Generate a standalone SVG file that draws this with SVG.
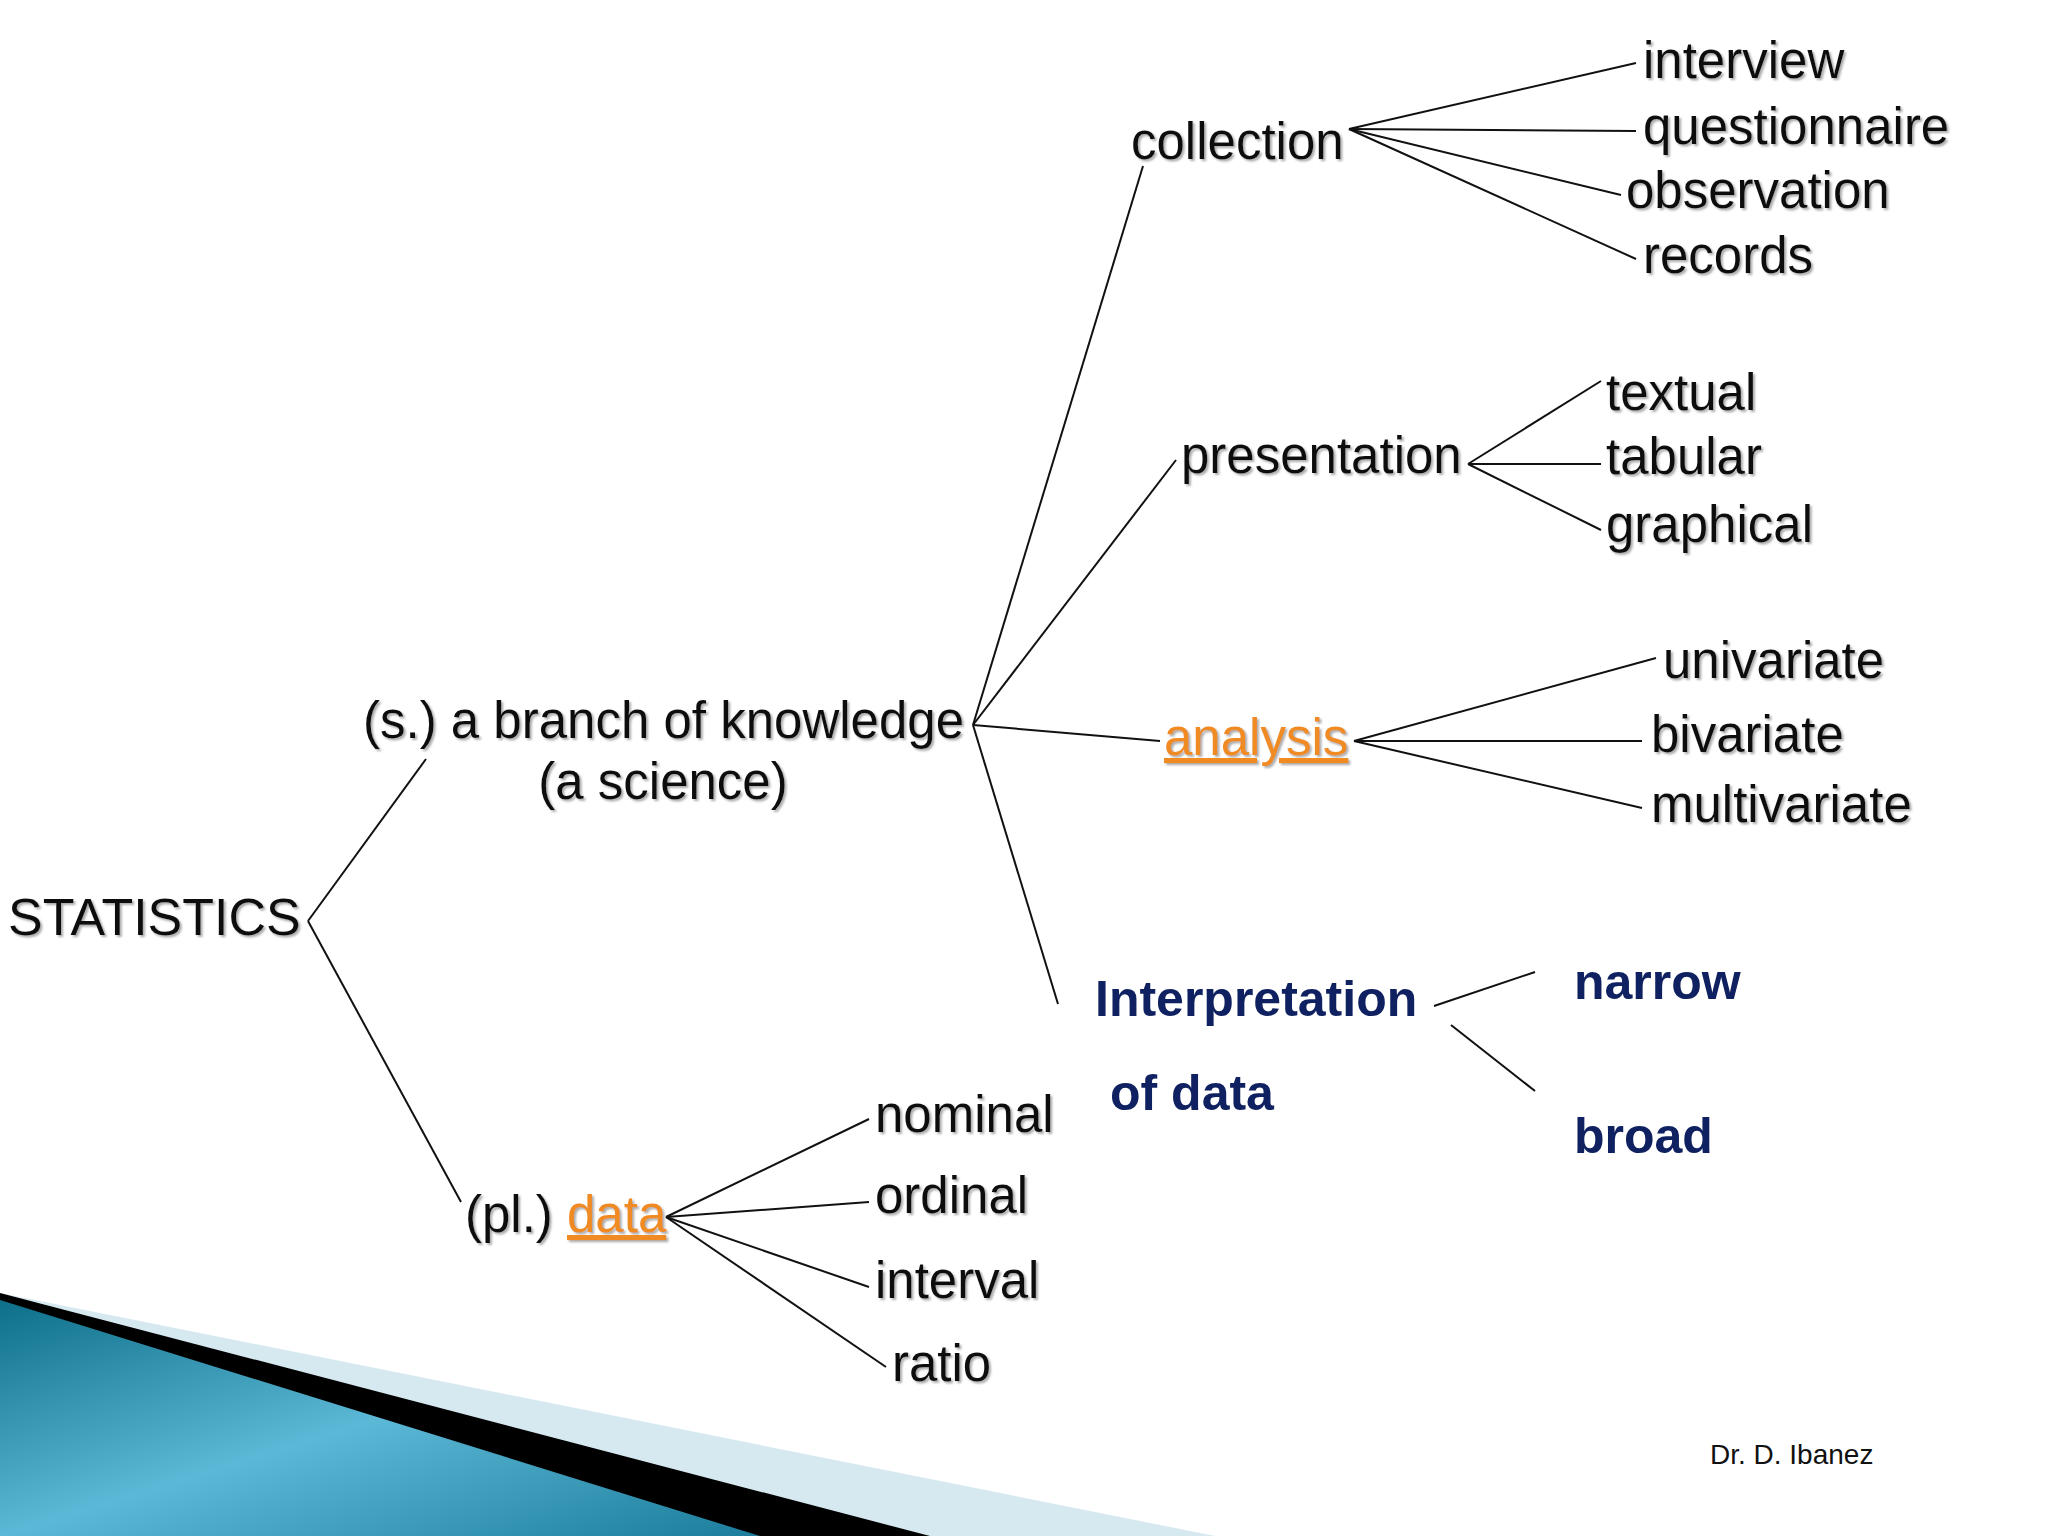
<svg xmlns="http://www.w3.org/2000/svg" width="2048" height="1536" viewBox="0 0 2048 1536">
<style>
.t{font-family:"Liberation Sans",Arial,sans-serif;font-size:51px;fill:#111;filter:url(#sh)}
.o{fill:#F08A24;text-decoration:underline}
.b{font-family:"Liberation Sans",Arial,sans-serif;font-size:50px;font-weight:bold;fill:#0F2160}
.c line{stroke:#111;stroke-width:2}
</style>
<defs>
<filter id="sh" x="-5%" y="-20%" width="110%" height="140%"><feDropShadow dx="2" dy="2" stdDeviation="1" flood-color="#888" flood-opacity="0.7"/></filter>
<linearGradient id="tg" x1="0" y1="0" x2="1" y2="1"><stop offset="0" stop-color="#0E6F8A"/><stop offset="0.5" stop-color="#5BB8D6"/><stop offset="1" stop-color="#1C7E9C"/></linearGradient>
</defs>
<g id="decoration">
<polygon points="0,1293 1215,1536 0,1536" fill="#D6E9F0"/>
<polygon points="0,1293 930,1536 0,1536" fill="#000"/>
<polygon points="0,1300 760,1536 0,1536" fill="url(#tg)"/>
</g>
<g class="c" id="connectors">
<line x1="308" y1="921" x2="426" y2="759"/><line x1="308" y1="921" x2="461" y2="1202"/>
<line x1="973" y1="725" x2="1143" y2="166"/><line x1="973" y1="725" x2="1176" y2="460"/>
<line x1="973" y1="725" x2="1160" y2="741"/><line x1="973" y1="725" x2="1058" y2="1004"/>
<line x1="1349" y1="129" x2="1636" y2="63"/><line x1="1349" y1="129" x2="1636" y2="131"/>
<line x1="1349" y1="129" x2="1621" y2="195"/><line x1="1349" y1="129" x2="1636" y2="259"/>
<line x1="1468" y1="464" x2="1601" y2="381"/><line x1="1468" y1="464" x2="1601" y2="464"/><line x1="1468" y1="464" x2="1601" y2="530"/>
<line x1="1354" y1="741" x2="1656" y2="658"/><line x1="1354" y1="741" x2="1642" y2="741"/><line x1="1354" y1="741" x2="1642" y2="808"/>
<line x1="1434" y1="1006" x2="1535" y2="972"/><line x1="1451" y1="1025" x2="1535" y2="1091"/>
<line x1="666" y1="1217" x2="869" y2="1119"/><line x1="666" y1="1217" x2="869" y2="1202"/>
<line x1="666" y1="1217" x2="869" y2="1287"/><line x1="666" y1="1217" x2="886" y2="1367"/>
</g>
<g id="statistics"><text class="t" x="8" y="935" style="font-size:52px">STATISTICS</text></g>
<g id="branch"><text class="t" x="363" y="738">(s.) a branch of knowledge</text><text class="t" x="663" y="799" text-anchor="middle">(a science)</text></g>
<g id="data"><text class="t" x="465" y="1232">(pl.) <tspan class="o">data</tspan></text></g>
<g id="collection"><text class="t" x="1131" y="159">collection</text></g>
<g id="presentation"><text class="t" x="1181" y="473">presentation</text></g>
<g id="analysis"><text class="t o" x="1164" y="755">analysis</text></g>
<g id="interpretation"><text class="b" x="1095" y="1016">Interpretation</text><text class="b" x="1110" y="1110">of data</text></g>
<g id="narrow"><text class="b" x="1574" y="999">narrow</text></g>
<g id="broad"><text class="b" x="1574" y="1153">broad</text></g>
<g id="interview"><text class="t" x="1643" y="78">interview</text></g>
<g id="questionnaire"><text class="t" x="1643" y="144">questionnaire</text></g>
<g id="observation"><text class="t" x="1626" y="208">observation</text></g>
<g id="records"><text class="t" x="1643" y="273">records</text></g>
<g id="textual"><text class="t" x="1606" y="410">textual</text></g>
<g id="tabular"><text class="t" x="1606" y="474">tabular</text></g>
<g id="graphical"><text class="t" x="1606" y="542">graphical</text></g>
<g id="univariate"><text class="t" x="1663" y="678">univariate</text></g>
<g id="bivariate"><text class="t" x="1651" y="752">bivariate</text></g>
<g id="multivariate"><text class="t" x="1651" y="822">multivariate</text></g>
<g id="nominal"><text class="t" x="875" y="1132">nominal</text></g>
<g id="ordinal"><text class="t" x="875" y="1213">ordinal</text></g>
<g id="interval"><text class="t" x="875" y="1298">interval</text></g>
<g id="ratio"><text class="t" x="892" y="1381">ratio</text></g>
<g id="author"><text x="1710" y="1464" font-family="Liberation Sans,Arial,sans-serif" font-size="28" fill="#111">Dr. D. Ibanez</text></g>
</svg>
